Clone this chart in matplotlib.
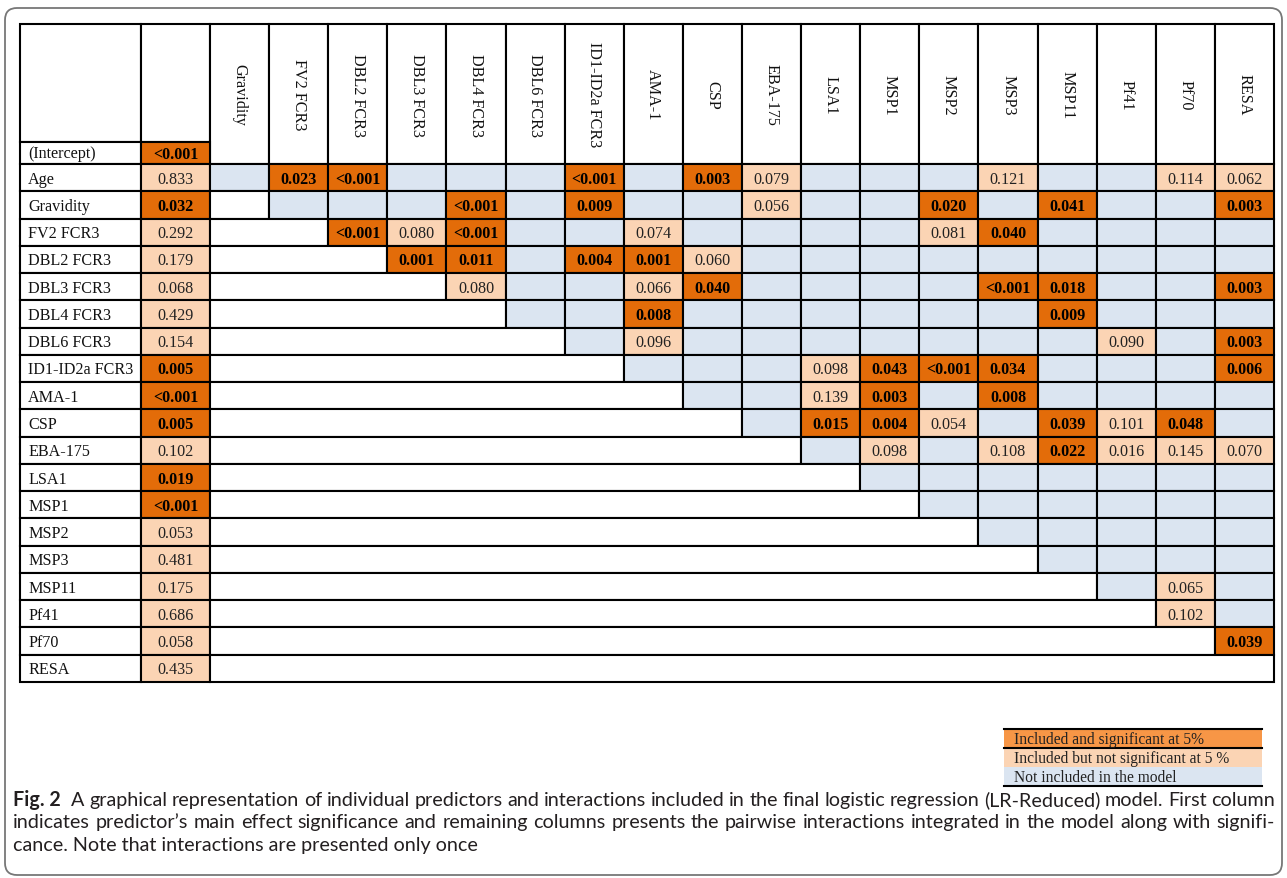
import matplotlib.pyplot as plt
from matplotlib.patches import Rectangle, FancyBboxPatch

# predictors in model order
predictors = ["Age", "Gravidity", "FV2 FCR3", "DBL2 FCR3", "DBL3 FCR3", "DBL4 FCR3",
              "DBL6 FCR3", "ID1-ID2a FCR3", "AMA-1", "CSP", "EBA-175", "LSA1", "MSP1",
              "MSP2", "MSP3", "MSP11", "Pf41", "Pf70", "RESA"]
col_labels = predictors[1:]

# main effect p-values (first column), intercept first
main_p = ["<0.001", "0.833", "0.032", "0.292", "0.179", "0.068", "0.429", "0.154", "0.005",
          "<0.001", "0.005", "0.102", "0.019", "<0.001", "0.053", "0.481", "0.175", "0.686",
          "0.058", "0.435"]
main_sig = [True, False, True, False, False, False, False, False, True,
            True, True, False, True, True, False, False, False, False,
            False, False]

# pairwise interactions: (row, column, p-value, significant)
interactions = [
    ("Age", "FV2 FCR3", "0.023", True), ("Age", "DBL2 FCR3", "<0.001", True),
    ("Age", "ID1-ID2a FCR3", "<0.001", True), ("Age", "CSP", "0.003", True),
    ("Age", "EBA-175", "0.079", False), ("Age", "MSP3", "0.121", False),
    ("Age", "Pf70", "0.114", False), ("Age", "RESA", "0.062", False),
    ("Gravidity", "DBL4 FCR3", "<0.001", True), ("Gravidity", "ID1-ID2a FCR3", "0.009", True),
    ("Gravidity", "EBA-175", "0.056", False), ("Gravidity", "MSP2", "0.020", True),
    ("Gravidity", "MSP11", "0.041", True), ("Gravidity", "RESA", "0.003", True),
    ("FV2 FCR3", "DBL2 FCR3", "<0.001", True), ("FV2 FCR3", "DBL3 FCR3", "0.080", False),
    ("FV2 FCR3", "DBL4 FCR3", "<0.001", True), ("FV2 FCR3", "AMA-1", "0.074", False),
    ("FV2 FCR3", "MSP2", "0.081", False), ("FV2 FCR3", "MSP3", "0.040", True),
    ("DBL2 FCR3", "DBL3 FCR3", "0.001", True), ("DBL2 FCR3", "DBL4 FCR3", "0.011", True),
    ("DBL2 FCR3", "ID1-ID2a FCR3", "0.004", True), ("DBL2 FCR3", "AMA-1", "0.001", True),
    ("DBL2 FCR3", "CSP", "0.060", False),
    ("DBL3 FCR3", "DBL4 FCR3", "0.080", False), ("DBL3 FCR3", "AMA-1", "0.066", False),
    ("DBL3 FCR3", "CSP", "0.040", True), ("DBL3 FCR3", "MSP3", "<0.001", True),
    ("DBL3 FCR3", "MSP11", "0.018", True), ("DBL3 FCR3", "RESA", "0.003", True),
    ("DBL4 FCR3", "AMA-1", "0.008", True), ("DBL4 FCR3", "MSP11", "0.009", True),
    ("DBL6 FCR3", "AMA-1", "0.096", False), ("DBL6 FCR3", "Pf41", "0.090", False),
    ("DBL6 FCR3", "RESA", "0.003", True),
    ("ID1-ID2a FCR3", "LSA1", "0.098", False), ("ID1-ID2a FCR3", "MSP1", "0.043", True),
    ("ID1-ID2a FCR3", "MSP2", "<0.001", True), ("ID1-ID2a FCR3", "MSP3", "0.034", True),
    ("ID1-ID2a FCR3", "RESA", "0.006", True),
    ("AMA-1", "LSA1", "0.139", False), ("AMA-1", "MSP1", "0.003", True),
    ("AMA-1", "MSP3", "0.008", True),
    ("CSP", "LSA1", "0.015", True), ("CSP", "MSP1", "0.004", True),
    ("CSP", "MSP2", "0.054", False), ("CSP", "MSP11", "0.039", True),
    ("CSP", "Pf41", "0.101", False), ("CSP", "Pf70", "0.048", True),
    ("EBA-175", "MSP1", "0.098", False), ("EBA-175", "MSP3", "0.108", False),
    ("EBA-175", "MSP11", "0.022", True), ("EBA-175", "Pf41", "0.016", False),
    ("EBA-175", "Pf70", "0.145", False), ("EBA-175", "RESA", "0.070", False),
    ("MSP11", "Pf70", "0.065", False), ("Pf41", "Pf70", "0.102", False),
    ("Pf70", "RESA", "0.039", True),
]

legend_labels = ["Included and significant at 5%", "Included but not significant at 5 %",
                 "Not included in the model"]

caption_lines = [
    "A graphical representation of individual predictors and interactions included in the final "
    "logistic regression (LR-Reduced) model. First column",
    "indicates predictor\u2019s main effect significance and remaining columns presents the pairwise "
    "interactions integrated in the model along with signifi-",
    "cance. Note that interactions are presented only once",
]

SIG = "#E36C09"
NONSIG = "#FBD4B4"
NOTIN = "#DBE5F1"
LEG_SIG = "#F79646"
SERIF = "Liberation Serif"

W, H = 1287, 879
fig = plt.figure(figsize=(W / 100, H / 100), dpi=100)
ax = fig.add_axes([0, 0, 1, 1])
ax.set_xlim(0, W)
ax.set_ylim(H, 0)
ax.axis("off")

# outer frame
ax.add_patch(FancyBboxPatch((5, 9), W - 10, H - 12, boxstyle="round,pad=0,rounding_size=12",
                            facecolor="white", edgecolor="#777777", lw=1.3))

# table layout
x_lab, x_main, x_int, x_end = 20, 141, 210, 1274
col_w = (x_end - x_int) / len(col_labels)
y_top, y_hdr, y_first = 25, 143, 165
row_h = (683 - y_first) / len(predictors)
LW = 1.5
fs = 11.6


def cell(x0, y0, w, h, fc):
    ax.add_patch(Rectangle((x0, y0), w, h, facecolor=fc, edgecolor="black", lw=LW))


def pval(x, y, txt, sig):
    ax.text(x, y, txt, ha="center", va="center", fontsize=fs, family=SERIF,
            fontweight="bold" if sig else "normal", color="black" if sig else "#222222")


# header
cell(x_lab, y_top, x_main - x_lab, y_hdr - y_top, "white")
cell(x_main, y_top, x_int - x_main, y_hdr - y_top, "white")
for j, lab in enumerate(col_labels):
    x0 = x_int + j * col_w
    cell(x0, y_top, col_w, y_first - y_top, "white")
    ax.text(x0 + col_w / 2, (y_top + y_first) / 2, lab, rotation=-90, ha="center", va="center",
            fontsize=fs, family=SERIF, color="#111111")

# intercept row
cell(x_lab, y_hdr, x_main - x_lab, y_first - y_hdr, "white")
ax.text(x_lab + 8, (y_hdr + y_first) / 2, "(Intercept)", ha="left", va="center",
        fontsize=fs, family=SERIF, color="#111111")
cell(x_main, y_hdr, x_int - x_main, y_first - y_hdr, SIG if main_sig[0] else NONSIG)
pval((x_main + x_int) / 2, (y_hdr + y_first) / 2 + 1, main_p[0], main_sig[0])

lookup = {(r, c): (p, s) for r, c, p, s in interactions}

for i, name in enumerate(predictors):
    y0 = y_first + i * row_h
    yc = y0 + row_h / 2 + 1
    cell(x_lab, y0, x_main - x_lab, row_h, "white")
    ax.text(x_lab + 8, yc, name, ha="left", va="center", fontsize=fs, family=SERIF,
            color="#111111")
    cell(x_main, y0, x_int - x_main, row_h, SIG if main_sig[i + 1] else NONSIG)
    pval((x_main + x_int) / 2, yc, main_p[i + 1], main_sig[i + 1])
    if i > 0:
        cell(x_int, y0, i * col_w, row_h, "white")
    for j in range(i, len(col_labels)):
        x0 = x_int + j * col_w
        key = (name, col_labels[j])
        if key in lookup:
            p, s = lookup[key]
            cell(x0, y0, col_w, row_h, SIG if s else NONSIG)
            pval(x0 + col_w / 2, yc, p, s)
        else:
            cell(x0, y0, col_w, row_h, NOTIN)

# legend
lx0, lx1 = 1004, 1262
ly = [730, 749, 768, 787]
for k, (lab, fc) in enumerate(zip(legend_labels, [LEG_SIG, NONSIG, NOTIN])):
    ax.add_patch(Rectangle((lx0, ly[k]), lx1 - lx0, ly[k + 1] - ly[k], facecolor=fc,
                           edgecolor="none"))
    ax.text(lx0 + 10, (ly[k] + ly[k + 1]) / 2 + 1, lab, ha="left", va="center",
            fontsize=11.2, family=SERIF, color="#222222")
for yy in (ly[0], ly[1], ly[3]):
    ax.plot([lx0, lx1], [yy, yy], color="black", lw=1.5)

# caption, justified like the journal layout
CAP_FONT = "Lato"
cap_fs = 14.2
renderer = fig.canvas.get_renderer()


def width(txt, bold=False):
    t = ax.text(0, 0, txt, fontsize=cap_fs, family=CAP_FONT,
                fontweight="bold" if bold else "normal")
    w = t.get_window_extent(renderer=renderer).width
    t.remove()
    return w


def justify(words, y, x0, x1, bold_first=False, extra_first=0.0):
    ws = [width(w, bold_first and k == 0) for k, w in enumerate(words)]
    gap = (x1 - x0 - sum(ws) - extra_first) / (len(words) - 1)
    x = x0
    for k, (w, wd) in enumerate(zip(words, ws)):
        ax.text(x, y, w, fontsize=cap_fs, family=CAP_FONT, va="baseline", ha="left",
                fontweight="bold" if (bold_first and k == 0) else "normal", color="#231f20")
        x += wd + gap + (extra_first if k == 0 else 0)


cap_x0, cap_x1 = 13, 1275
justify(["Fig. 2"] + caption_lines[0].split(), 806, cap_x0, cap_x1, bold_first=True,
        extra_first=6)
justify(caption_lines[1].split(), 828, cap_x0, cap_x1)
ax.text(cap_x0, 851, caption_lines[2], fontsize=cap_fs, family=CAP_FONT, va="baseline",
        ha="left", color="#231f20")

fig.savefig("out.png", dpi=100)
plt.close(fig)
